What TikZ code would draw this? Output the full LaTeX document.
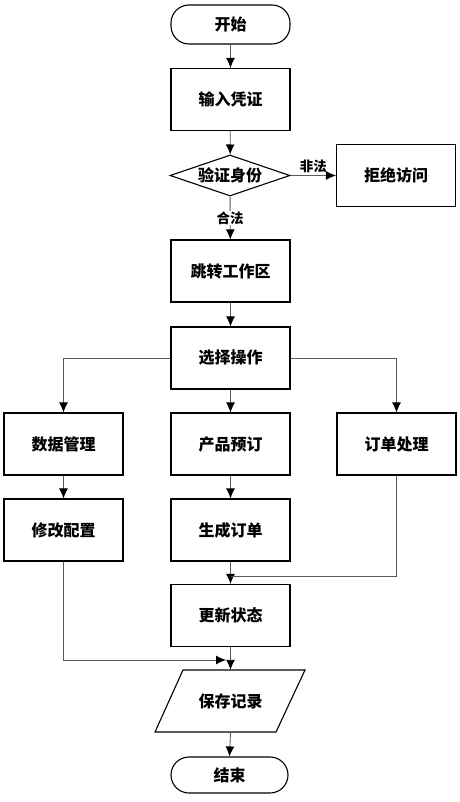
\documentclass[tikz,border=0pt]{standalone}
\usepackage{fontspec}
\setmainfont{Noto Sans CJK SC}
\usetikzlibrary{shapes.geometric,arrows.meta}
\begin{document}
\begin{tikzpicture}[x=1pt,y=-1pt,
  txt/.style={font=\fontsize{16}{16}\selectfont\bfseries},
  box/.style={txt,draw=black,line width=1.1pt,minimum width=119pt,minimum height=62pt,inner sep=0pt},
  term/.style={txt,draw=black,line width=1.1pt,rounded corners=18pt,minimum width=119pt,minimum height=39pt,inner sep=0pt},
  dec/.style={txt,draw=black,line width=1.1pt,diamond,aspect=2.93,minimum width=120pt,minimum height=41pt,inner sep=0pt},
  conn/.style={draw=black!65,line width=0.9pt,-{Latex[length=10pt,width=9pt,black]}},
  plain/.style={draw=black!65,line width=0.9pt},
  lab/.style={fill=white,inner sep=1pt,font=\fontsize{13.5}{13.5}\selectfont\bfseries}]
\useasboundingbox (0,0) rectangle (459,802);
\node[term] (start) at (230.5,24.5) {开始};
\node[box] (inp) at (230.5,99.5) {输入凭证};
\node[dec] (dia) at (230,175.5) {验证身份};
\node[box] (rej) at (396,175.5) {拒绝访问};
\node[box] (jump) at (230.5,271) {跳转工作区};
\node[box] (sel) at (230.5,358) {选择操作};
\node[box] (dm) at (63.5,444) {数据管理};
\node[box] (pb) at (230.5,444) {产品预订};
\node[box] (op) at (396.5,444) {订单处理};
\node[box] (mod) at (63.5,530) {修改配置};
\node[box] (gen) at (230.5,530) {生成订单};
\node[box] (upd) at (230.5,615.5) {更新状态};
\node[txt,minimum width=150pt,minimum height=62pt,inner sep=0pt] (save) at (230.5,701) {保存记录};
\draw[line width=1.1pt] (183,670) -- (305,670) -- (276,732) -- (155,732) -- cycle;
\node[term,minimum width=117pt,minimum height=36pt] (end) at (229.5,775) {结束};
\coordinate (j1) at (230.5,576);
\coordinate (j2) at (226,660);
\draw[conn] (start) -- (inp);
\draw[conn] (inp) -- (dia);
\draw[conn] (dia) -- node[lab,above=1pt,fill=none] {非法} (rej);
\draw[conn] (dia) -- node[lab] {合法} (jump);
\draw[conn] (jump) -- (sel);
\draw[conn] (sel.west) -| (dm.north);
\draw[conn] (sel) -- (pb);
\draw[conn] (sel.east) -| (op.north);
\draw[conn] (dm) -- (mod);
\draw[conn] (pb) -- (gen);
\draw[conn] (gen) -- (upd);
\draw[plain] (op.south) |- (j1);
\draw[conn] (mod.south) |- (j2);
\draw[conn] (upd.south) -- (save.north);
\draw[conn] (save.south) -- (end.north);
\end{tikzpicture}
\end{document}
